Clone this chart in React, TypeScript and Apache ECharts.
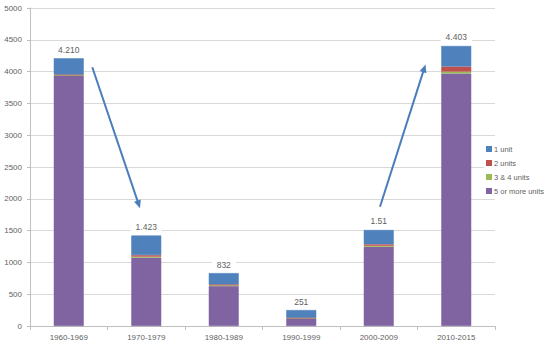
import React, { useEffect, useRef } from "react";
import * as echarts from "echarts";

const categories = ["1960-1969", "1970-1979", "1980-1989", "1990-1999", "2000-2009", "2010-2015"];
const fivePlus = [3940, 1075, 630, 120, 1245, 3970];
const threeFour = [5, 15, 10, 3, 15, 30];
const twoUnits = [10, 25, 15, 8, 25, 80];
const oneUnit = [255, 308, 177, 120, 225, 323];
const totalLabels = ["4.210", "1.423", "832", "251", "1.51", "4.403"];
const yTicks = [0, 500, 1000, 1500, 2000, 2500, 3000, 3500, 4000, 4500, 5000];

const FONT = "'Liberation Sans', Arial, sans-serif";
const TXT = "#5f5f5f";
const ARROW = "#4a7dbb";

function arrowGraphics(x1: number, y1: number, x2: number, y2: number) {
  const dx = x2 - x1;
  const dy = y2 - y1;
  const len = Math.sqrt(dx * dx + dy * dy);
  const ux = dx / len;
  const uy = dy / len;
  const headLen = 8;
  const headW = 3.5;
  const bx = x2 - ux * headLen;
  const by = y2 - uy * headLen;
  const px = -uy;
  const py = ux;
  return [
    {
      type: "line",
      shape: { x1, y1, x2: bx + ux * 1, y2: by + uy * 1 },
      style: { stroke: ARROW, lineWidth: 2 },
      z: 100,
    },
    {
      type: "polygon",
      shape: {
        points: [
          [x2, y2],
          [bx + px * headW, by + py * headW],
          [bx - px * headW, by - py * headW],
        ],
      },
      style: { fill: ARROW },
      z: 100,
    },
  ];
}

export default function App() {
  const ref = useRef<HTMLDivElement>(null);
  useEffect(() => {
    if (!ref.current) return;
    const chart = echarts.init(ref.current, undefined, { renderer: "svg" });
    const barW = 30;
    const mkSeries = (name: string, data: number[], color: string, extra: any = {}) => ({
      name,
      type: "bar",
      stack: "total",
      data,
      barWidth: barW,
      itemStyle: { color, borderColor: color, borderWidth: 0.5 },
      ...extra,
    });
    chart.setOption({
      animation: false,
      backgroundColor: "#ffffff",
      textStyle: { fontFamily: FONT },
      grid: { left: 30, right: 55, top: 8, bottom: 25, containLabel: false, outerBoundsMode: "none" },
      legend: {
        orient: "vertical",
        left: 484,
        top: 142,
        padding: 2,
        backgroundColor: "#ffffff",
        itemWidth: 4,
        itemHeight: 4,
        itemGap: 4,
        icon: "rect",
        textStyle: { fontSize: 7.5, color: TXT, fontFamily: FONT, lineHeight: 10, padding: [0, 0, 0, -2] },
        data: ["1 unit", "2 units", "3 & 4 units", "5 or more units"],
      },
      xAxis: {
        type: "category",
        data: categories,
        axisLine: { lineStyle: { color: "#bfbfbf" } },
        axisTick: { show: true, length: 4, lineStyle: { color: "#bfbfbf" } },
        axisLabel: { fontSize: 8, color: TXT, margin: 7, fontFamily: FONT },
      },
      yAxis: {
        type: "value",
        min: yTicks[0],
        max: yTicks[yTicks.length - 1],
        interval: 500,
        axisLine: { show: true, lineStyle: { color: "#bfbfbf" } },
        axisTick: { show: true, length: 3, lineStyle: { color: "#bfbfbf" } },
        axisLabel: {
          fontSize: 8,
          color: TXT,
          margin: 8,
          fontFamily: FONT,
          formatter: (v: number) => String(v),
        },
        splitLine: { lineStyle: { color: "#d9d9d9", width: 1 } },
      },
      series: [
        mkSeries("5 or more units", fivePlus, "#8064a2"),
        mkSeries("3 & 4 units", threeFour, "#9bbb59"),
        mkSeries("2 units", twoUnits, "#c0504d"),
        mkSeries("1 unit", oneUnit, "#4f81bd", {
          label: {
            show: true,
            position: "top",
            distance: 3,
            fontSize: 8.5,
            color: TXT,
            fontFamily: FONT,
            backgroundColor: "#ffffff",
            padding: [1, 5],
            formatter: (p: any) => totalLabels[p.dataIndex],
          },
        }),
      ],
      graphic: [
        ...arrowGraphics(92.3, 67.3, 140, 208.3),
        ...arrowGraphics(380, 206.7, 425.5, 64.5),
      ],
    });
    return () => chart.dispose();
  }, []);
  return <div ref={ref} style={{ width: 550, height: 351, position: "fixed", left: 0, top: 0 }} />;
}
